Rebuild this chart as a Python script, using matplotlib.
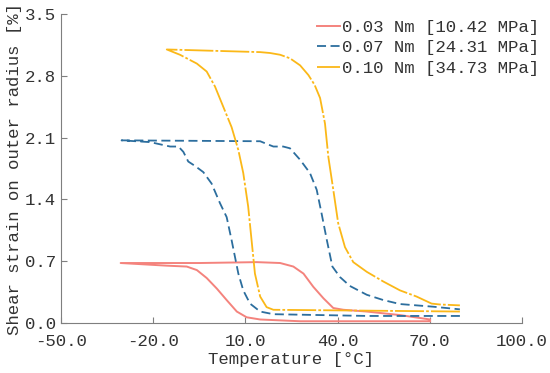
import numpy as np
import matplotlib.pyplot as plt
from matplotlib.ticker import FormatStrFormatter

plt.rcParams['font.family'] = ['Liberation Mono', 'DejaVu Sans Mono']

# 0.03 Nm loop (temperature [°C], strain [%])
t_003 = [70.1, 50.0, 27.8, 14.8, 10.4, 7.2, 3.9, 0.7, -2.6, -5.8, -9.1, -15.6, -30.6,
         -4.8, 13.7, 21.3, 25.6, 28.9, 32.1, 35.4, 38.6, 41.9, 49.5, 60.3, 70.1]
s_003 = [0.02, 0.02, 0.02, 0.04, 0.065, 0.13, 0.26, 0.39, 0.51, 0.60, 0.64, 0.65, 0.68,
         0.68, 0.69, 0.68, 0.64, 0.56, 0.41, 0.28, 0.17, 0.15, 0.13, 0.09, 0.04]

# 0.07 Nm loop
t_007 = [79.8, 50.0, 19.1, 14.8, 11.5, 9.3, 7.7, 6.6, 5.5, 3.9, 1.7, -1.0, -3.7, -6.4,
         -8.6, -10.2, -11.8, -14.5, -21.0, -30.3,
         14.8, 16.9, 19.1, 22.3, 24.5, 27.8, 31.0, 33.2, 34.8, 36.5, 38.3, 40.8, 44.0,
         49.5, 54.9, 60.3, 71.1, 79.8]
s_007 = [0.08, 0.08, 0.10, 0.13, 0.22, 0.37, 0.56, 0.75, 0.94, 1.20, 1.36, 1.58, 1.71, 1.78,
         1.83, 1.94, 2.00, 2.00, 2.05, 2.07,
         2.06, 2.03, 2.00, 2.00, 1.98, 1.85, 1.70, 1.51, 1.24, 0.94, 0.64, 0.52, 0.42,
         0.32, 0.26, 0.215, 0.185, 0.155]

# 0.10 Nm loop
t_010 = [79.8, 50.0, 19.1, 16.9, 14.8, 13.1, 12.0, 10.9, 9.3, 7.7, 5.5, 2.8, 0.1, -2.6,
         -5.8, -11.3, -15.6,
         14.8, 18.0, 21.3, 24.5, 27.8, 30.5, 32.5, 34.3, 35.9, 37.0, 38.6, 40.2, 42.4,
         45.1, 49.5, 54.9, 60.3, 65.7, 70.6, 73.3, 79.8]
s_010 = [0.13, 0.14, 0.15, 0.18, 0.30, 0.56, 0.94, 1.32, 1.70, 1.96, 2.22, 2.45, 2.68, 2.85,
         2.94, 3.04, 3.10,
         3.07, 3.06, 3.04, 3.00, 2.92, 2.81, 2.70, 2.55, 2.26, 1.88, 1.51, 1.13, 0.86,
         0.69, 0.58, 0.47, 0.37, 0.30, 0.22, 0.21, 0.20]

labels = ['0.03 Nm [10.42 MPa]', '0.07 Nm [24.31 MPa]', '0.10 Nm [34.73 MPa]']

fig = plt.figure(figsize=(5.5, 3.73), dpi=100)
ax = fig.add_axes([0.111, 0.134, 0.838, 0.828])

ax.plot(t_003, s_003, color='#F4837D', lw=1.4, label=labels[0])
ax.plot(t_007, s_007, color='#2C6E9E', lw=1.3, ls=(0, (5, 2.5)), label=labels[1])
ax.plot(t_010, s_010, color='#FBB818', lw=1.3, ls=(0, (16, 1.2, 1.5, 1.2)), label=labels[2])

ax.set_xlim(-50, 100)
ax.set_ylim(0, 3.5)
ax.set_xticks(np.arange(-50, 101, 30))
ax.set_yticks(np.arange(0, 3.51, 0.7))
ax.xaxis.set_major_formatter(FormatStrFormatter('%.1f'))
ax.yaxis.set_major_formatter(FormatStrFormatter('%.1f'))
ax.tick_params(direction='in', colors='#7f7f7f', labelcolor='#333333', labelsize=12.5, length=4)
ax.tick_params(axis='x', pad=8)
for sp in ['top', 'right']:
    ax.spines[sp].set_visible(False)
for sp in ['left', 'bottom']:
    ax.spines[sp].set_color('#7f7f7f')

ax.set_xlabel('Temperature [°C]', fontsize=12.5, color='#333333', labelpad=2)
ax.set_ylabel('Shear strain on outer radius [%]', fontsize=12.5, color='#333333', labelpad=2)

leg = ax.legend(loc='upper right', bbox_to_anchor=(1.0, 0.975), bbox_transform=fig.transFigure,
                frameon=False, fontsize=12.5, handlelength=1.3, handletextpad=0.15,
                labelspacing=0.3, borderaxespad=0.2)
for t in leg.get_texts():
    t.set_color('#333333')

fig.savefig('out.png', dpi=100)
